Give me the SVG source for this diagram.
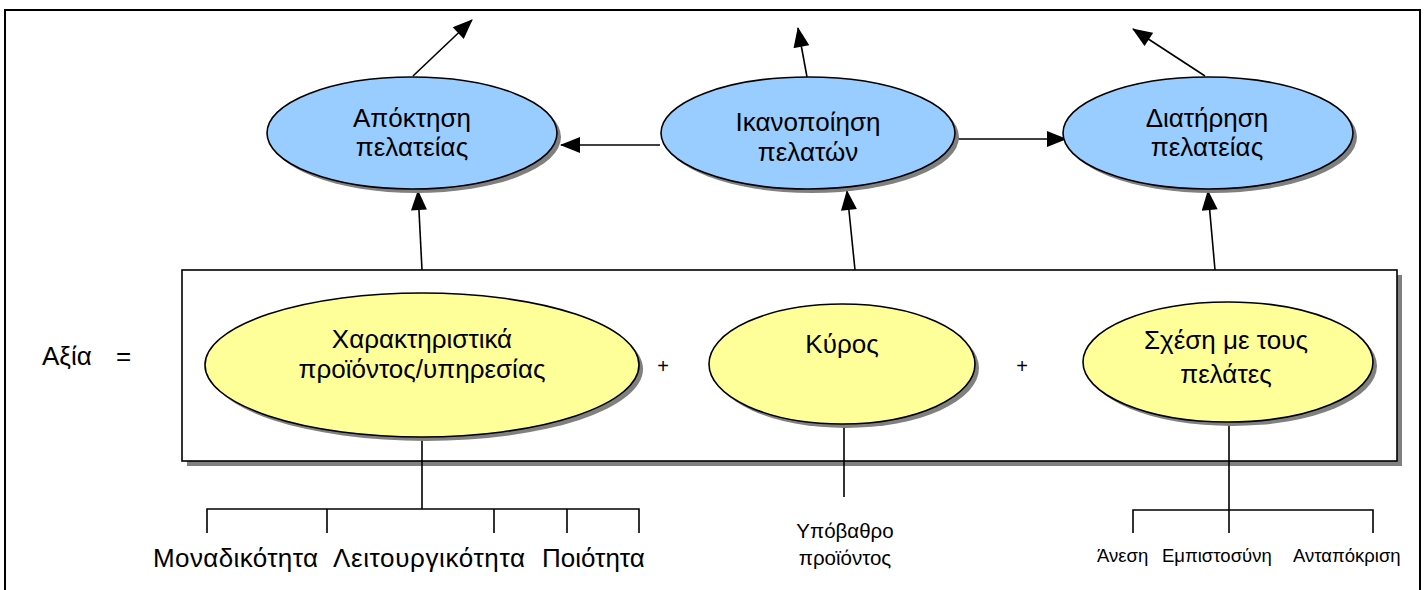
<svg xmlns="http://www.w3.org/2000/svg" width="1426" height="590" viewBox="0 0 1426 590">
  <style>
    text { font-family: "Liberation Sans", Arial, sans-serif; fill: #000; }
    .lbl { font-size: 26px; text-anchor: middle; }
    .big { font-size: 26px; }
    .mid { font-size: 20.5px; text-anchor: middle; }
    .small { font-size: 18.5px; }
    .goal { fill: #99CCFF; stroke: #000; stroke-width: 1.6; }
    .part { fill: #FFFF99; stroke: #000; stroke-width: 1.6; }
    .shadow { fill: #808080; }
    .line { stroke: #000; stroke-width: 1.6; fill: none; }
    .arrow { stroke: #000; stroke-width: 1.6; fill: none; marker-end: url(#head); }
  </style>
  <defs>
    <marker id="head" viewBox="0 0 20 16" markerWidth="21" markerHeight="16" refX="19" refY="8" orient="auto" markerUnits="userSpaceOnUse">
      <path d="M0,0 L20,8 L0,16 z" fill="#000"/>
    </marker>
  </defs>

  <rect width="1426" height="590" fill="#fff"/>

  <!-- outer frame -->
  <rect id="frame" x="5" y="10" width="1415" height="600" fill="none" stroke="#000" stroke-width="2"/>

  <!-- value box with drop shadow -->
  <g id="value-box">
    <rect class="shadow" x="187" y="275" width="1215" height="191"/>
    <rect x="182" y="270" width="1215" height="191" fill="#fff" stroke="#000" stroke-width="1.6"/>
  </g>

  <g id="value-label">
    <text x="42" y="365" font-size="26">Αξία</text>
    <text x="116" y="365" font-size="26">=</text>
  </g>

  <!-- connectors -->
  <g id="connectors">
    <line class="arrow" x1="413" y1="76" x2="472" y2="20"/>
    <line class="arrow" x1="807" y1="77" x2="798" y2="28"/>
    <line class="arrow" x1="1205" y1="76" x2="1133" y2="29"/>
    <line class="arrow" x1="660" y1="145" x2="561" y2="145"/>
    <line class="arrow" x1="955" y1="139" x2="1066" y2="139"/>
    <line class="arrow" x1="422" y1="270" x2="418" y2="191"/>
    <line class="arrow" x1="855" y1="270" x2="847" y2="191"/>
    <line class="arrow" x1="1215" y1="270" x2="1208" y2="191"/>

    <!-- product attributes tree -->
    <line class="line" x1="422" y1="437" x2="422" y2="509"/>
    <path class="line" d="M207,533 V509 H639 V533 M327,509 V533 M494,509 V533 M567,509 V533"/>

    <!-- image stem -->
    <line class="line" x1="844" y1="424" x2="844" y2="497"/>

    <!-- relationship tree -->
    <line class="line" x1="1229" y1="422" x2="1229" y2="533"/>
    <path class="line" d="M1133,533 V510 H1373 V533"/>
  </g>

  <!-- customer outcomes -->
  <g id="acquisition">
    <ellipse class="shadow" cx="416" cy="137" rx="145" ry="56"/>
    <ellipse class="goal" cx="412" cy="133" rx="145" ry="56"/>
    <text class="lbl" x="412" y="127">Απόκτηση</text>
    <text class="lbl" x="412" y="156">πελατείας</text>
  </g>
  <g id="satisfaction">
    <ellipse class="shadow" cx="812" cy="137" rx="147" ry="56"/>
    <ellipse class="goal" cx="808" cy="133" rx="147" ry="56"/>
    <text class="lbl" x="808" y="131">Ικανοποίηση</text>
    <text class="lbl" x="808" y="161">πελατών</text>
  </g>
  <g id="retention">
    <ellipse class="shadow" cx="1212" cy="137" rx="145" ry="56"/>
    <ellipse class="goal" cx="1208" cy="133" rx="145" ry="56"/>
    <text class="lbl" x="1207" y="127">Διατήρηση</text>
    <text class="lbl" x="1207" y="156">πελατείας</text>
  </g>

  <!-- value components -->
  <g id="attributes">
    <ellipse class="shadow" cx="426" cy="369" rx="217" ry="72"/>
    <ellipse class="part" cx="422" cy="365" rx="217" ry="72"/>
    <text class="lbl" x="422" y="348">Χαρακτηριστικά</text>
    <text class="lbl" x="422" y="378">προϊόντος/υπηρεσίας</text>
  </g>
  <text x="663" y="373" font-size="20" text-anchor="middle">+</text>
  <g id="image">
    <ellipse class="shadow" cx="846" cy="368" rx="133" ry="60"/>
    <ellipse class="part" cx="842" cy="364" rx="133" ry="60"/>
    <text class="lbl" x="842" y="353">Κύρος</text>
  </g>
  <text x="1022" y="373" font-size="20" text-anchor="middle">+</text>
  <g id="relationship">
    <ellipse class="shadow" cx="1232" cy="366" rx="145" ry="60"/>
    <ellipse class="part" cx="1228" cy="362" rx="145" ry="60"/>
    <text class="lbl" x="1226" y="349">Σχέση με τους</text>
    <text class="lbl" x="1226" y="383">πελάτες</text>
  </g>

  <!-- leaf labels -->
  <g id="attribute-leaves">
    <text class="big" x="153" y="567" textLength="165">Μοναδικότητα</text>
    <text class="big" x="333" y="567" textLength="192">Λειτουργικότητα</text>
    <text class="big" x="542" y="567">Ποιότητα</text>
  </g>
  <g id="image-leaf">
    <text class="mid" x="845" y="538">Υπόβαθρο</text>
    <text class="mid" x="845" y="565">προϊόντος</text>
  </g>
  <g id="relationship-leaves">
    <text class="small" x="1097" y="562">Άνεση</text>
    <text class="small" x="1162" y="562">Εμπιστοσύνη</text>
    <text class="small" x="1293" y="562">Ανταπόκριση</text>
  </g>
</svg>
